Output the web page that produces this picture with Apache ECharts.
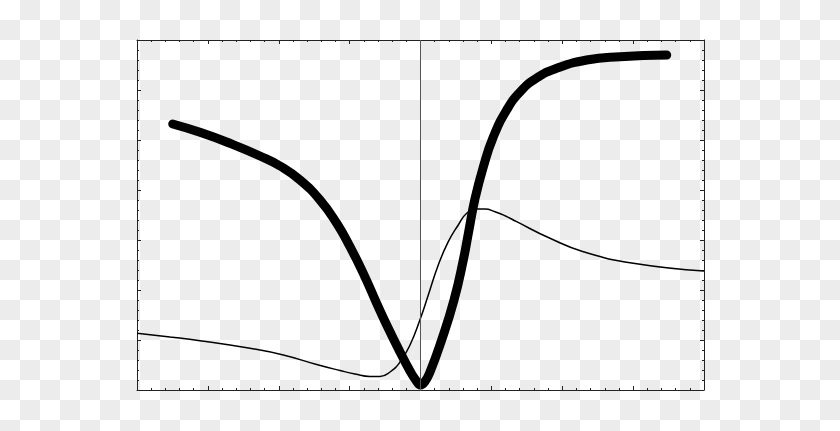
<!DOCTYPE html>
<html>
<head>
<meta charset="utf-8">
<script src="https://cdn.jsdelivr.net/npm/echarts@6/dist/echarts.min.js"></script>
<style>
  html, body {
    margin: 0;
    padding: 0;
  }
  body {
    background: repeating-conic-gradient(#ececec 0% 25%, #ffffff 0% 50%) 0 0 / 40px 40px;
  }
  #chart {
    width: 840px;
    height: 431px;
  }
</style>
</head>
<body>
<div id="chart"></div>
<script>
  // thick curve
  const thickX = [-3.496, -3.111, -2.688, -2.265, -1.982, -1.7, -1.418, -1.182, -0.995, -0.807, -0.618, -0.477, -0.289, -0.148, -0.063, 0, 0.063, 0.134, 0.289, 0.473, 0.604, 0.684, 0.765, 0.886, 1.027, 1.216, 1.404, 1.639, 1.922, 2.345, 2.815, 3.474];
  const thickY = [5.32, 5.154, 4.934, 4.68, 4.48, 4.2, 3.8, 3.334, 2.866, 2.334, 1.734, 1.3, 0.76, 0.38, 0.19, 0.1, 0.17, 0.36, 0.96, 1.8, 2.6, 3.2, 3.8, 4.46, 5.06, 5.6, 5.96, 6.24, 6.434, 6.6, 6.666, 6.7];

  // thin curve
  const thinX = [-4, -3.534, -3.111, -2.406, -1.936, -1.465, -1.136, -0.924, -0.713, -0.571, -0.43, -0.289, -0.148, 0, 0.11, 0.251, 0.392, 0.533, 0.652, 0.793, 0.91, 1.051, 1.192, 1.357, 1.827, 2.297, 3.003, 4];
  const thinY = [1.133, 1.06, 0.986, 0.834, 0.7, 0.51, 0.39, 0.32, 0.27, 0.27, 0.36, 0.56, 0.9, 1.434, 1.9, 2.5, 2.966, 3.3, 3.534, 3.62, 3.62, 3.566, 3.486, 3.366, 3.034, 2.766, 2.534, 2.38];

  // axis ranges
  const xRange = [-4, 4];
  const yRange = [0, 7];
  const vLineX = 0;

  const chart = echarts.init(document.getElementById("chart"));

  const frameAxis = (extra) => ({
    type: "value",
    interval: 1,
    axisLine: { show: true, onZero: false, lineStyle: { color: "#222", width: 1 } },
    axisTick: { show: true, inside: true, length: 4, lineStyle: { color: "#222" } },
    minorTick: { show: true, splitNumber: 5, length: 2, lineStyle: { color: "#222" } },
    axisLabel: { show: false },
    splitLine: { show: false },
    minorSplitLine: { show: false },
    ...extra,
  });

  const zip = (xs, ys) => xs.map((x, i) => [x, ys[i]]);

  const option = {
    backgroundColor: "transparent",
    animation: false,
    grid: { left: 137, right: 136, top: 40, bottom: 41 },
    xAxis: [
      frameAxis({ min: xRange[0], max: xRange[1], position: "bottom" }),
      frameAxis({ min: xRange[0], max: xRange[1], position: "top" }),
    ],
    yAxis: [
      frameAxis({ min: yRange[0], max: yRange[1], position: "left" }),
      frameAxis({ min: yRange[0], max: yRange[1], position: "right" }),
    ],
    series: [
      {
        type: "line",
        data: zip(thickX, thickY),
        smooth: 0.5,
        symbol: "none",
        lineStyle: { color: "#000", width: 9, cap: "round", join: "round" },
        markLine: {
          silent: true,
          symbol: "none",
          label: { show: false },
          lineStyle: { color: "#555", width: 1, type: "solid" },
          data: [{ xAxis: vLineX }],
        },
      },
      {
        type: "line",
        data: zip(thinX, thinY),
        smooth: 0.5,
        symbol: "none",
        lineStyle: { color: "#000", width: 1.5 },
      },
    ],
  };

  chart.setOption(option);
</script>
</body>
</html>
